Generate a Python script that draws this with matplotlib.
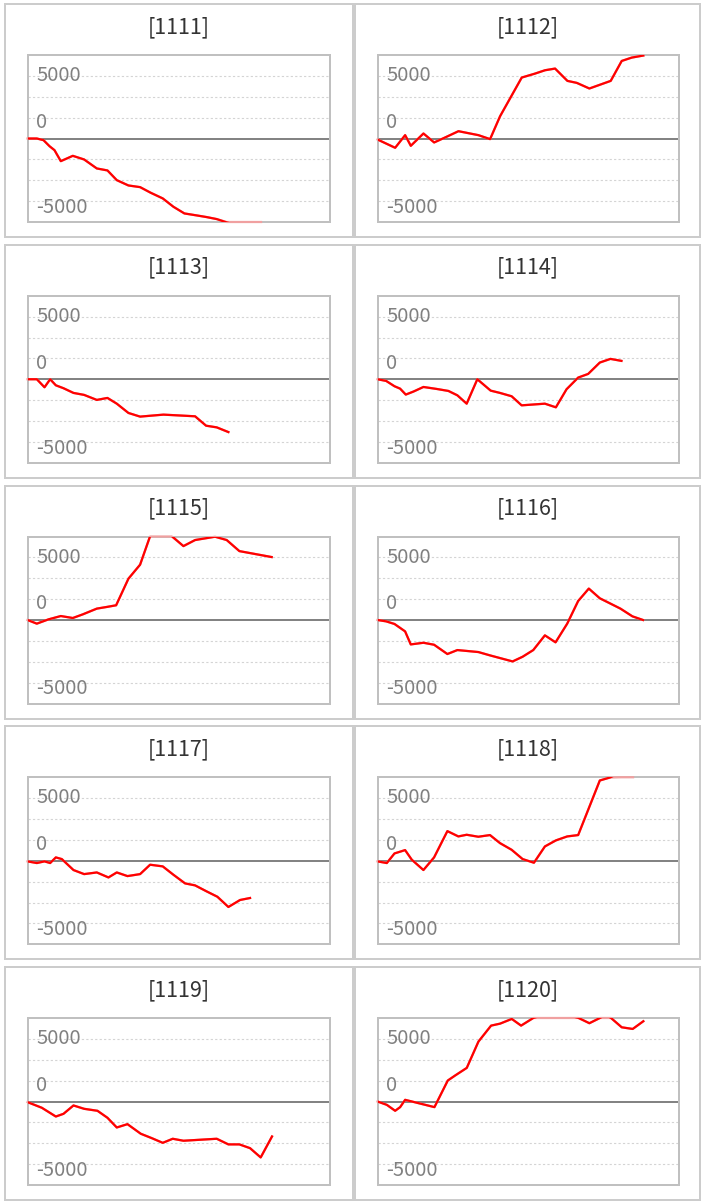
import numpy as np
import matplotlib
matplotlib.use('Agg')
import matplotlib.pyplot as plt
from matplotlib.patches import Rectangle

# ---------------- data ----------------
panel_ids = ['1111', '1112', '1113', '1114', '1115',
             '1116', '1117', '1118', '1119', '1120']
y_label_texts = ['5000', '0', '-5000']

x_1111 = [0, 277, 476, 654, 803, 991, 1348, 1685, 2062, 2379, 2656, 3003, 3350,
          3667, 4024, 4341, 4668, 5035, 5332, 5630, 5927, 6949]
y_1111 = [0, 0, -160, -734, -1117, -2170, -1660, -2010, -2870, -3060, -3990, -4500,
          -4660, -5200, -5740, -6540, -7180, -7370, -7530, -7720, -8040, -8900]

x_1112 = [0, 527, 825, 994, 1372, 1691, 2019, 2417, 3013, 3361, 3660, 4306, 4704,
          5002, 5301, 5669, 5948, 6325, 6962, 7290, 7588, 7936]
y_1112 = [-96, -890, 320, -700, 480, -380, 100, 700, 320, -60, 2140, 5840, 6220,
          6540, 6700, 5520, 5330, 4790, 5520, 7430, 7750, 7950]

x_1113 = [0, 278, 506, 674, 843, 1071, 1368, 1685, 2062, 2379, 2656, 3003, 3350,
          4044, 4639, 4986, 5313, 5630, 5977]
y_1113 = [0, 0, -770, 0, -580, -860, -1310, -1500, -1980, -1790, -2340, -3230,
          -3580, -3390, -3490, -3550, -4450, -4610, -5060]

x_1114 = [0, 258, 507, 675, 844, 1073, 1371, 1768, 2116, 2384, 2662, 2980, 3378,
          3656, 4004, 4302, 4997, 5325, 5643, 5990, 6288, 6636, 6954, 7282]
y_1114 = [0, -160, -670, -900, -1470, -1180, -740, -930, -1120, -1540, -2340, 0,
          -1090, -1310, -1630, -2500, -2340, -2690, -960, 160, 510, 1600, 1950, 1760]

x_1115 = [0, 277, 624, 991, 1348, 1645, 2062, 2359, 2637, 3003, 3350, 3648, 3945,
          4292, 4639, 4986, 5580, 5927, 6304, 7265]
y_1115 = [0, -350, 60, 380, 190, 540, 1090, 1250, 1410, 3960, 5300, 8040, 8600,
          8040, 7080, 7660, 7980, 7660, 6600, 6030]

x_1116 = [0, 258, 507, 824, 993, 1371, 1689, 2086, 2384, 3010, 3358, 4033, 4332,
          4650, 4997, 5315, 5663, 5990, 6308, 6636, 6954, 7252, 7610, 7927]
y_1116 = [0, -130, -380, -1090, -2340, -2180, -2370, -3260, -2880, -3070, -3390,
          -3970, -3520, -2880, -1470, -2140, -350, 1820, 3010, 2080, 1570, 1090, 350, 0]

x_1117 = [0, 278, 506, 674, 843, 1021, 1368, 1685, 2062, 2409, 2656, 2974, 3350,
          3648, 4024, 4341, 4688, 4986, 5332, 5650, 5977, 6324, 6621]
y_1117 = [-60, -220, -60, -220, 320, 160, -890, -1280, -1120, -1600, -1120, -1470,
          -1280, -380, -540, -1340, -2170, -2360, -2940, -3450, -4430, -3760, -3570]

x_1118 = [0, 278, 507, 824, 1023, 1371, 1689, 2086, 2414, 2662, 3010, 3358, 3656,
          4004, 4332, 4670, 4997, 5325, 5663, 5990, 6636, 6934, 7280, 7629]
y_1118 = [-60, -220, 700, 1020, 100, -890, 320, 2840, 2330, 2490, 2300, 2460, 1690,
          1050, 160, -190, 1370, 1950, 2330, 2460, 7690, 7970, 8500, 8400]

x_1119 = [0, 426, 843, 1071, 1368, 1685, 2082, 2379, 2656, 2974, 3370, 3697, 4024,
          4321, 4639, 5630, 5977, 6304, 6621, 6938, 7275]
y_1119 = [-60, -600, -1440, -1180, -380, -700, -890, -1560, -2490, -2170, -3090,
          -3510, -3960, -3570, -3760, -3570, -4110, -4110, -4470, -5360, -3350]

x_1120 = [0, 278, 527, 676, 825, 1700, 2098, 2317, 2665, 3013, 3391, 3660, 4008,
          4286, 4654, 5300, 5997, 6325, 6643, 6810, 6971, 7290, 7618, 7936]
y_1120 = [0, -320, -890, -540, 160, -540, 2010, 2490, 3220, 5740, 7270, 7460, 7910,
          7270, 8010, 8600, 8010, 7500, 8010, 8300, 8000, 7110, 6950, 7690]

series = {
    '1111': (x_1111, y_1111), '1112': (x_1112, y_1112),
    '1113': (x_1113, y_1113), '1114': (x_1114, y_1114),
    '1115': (x_1115, y_1115), '1116': (x_1116, y_1116),
    '1117': (x_1117, y_1117), '1118': (x_1118, y_1118),
    '1119': (x_1119, y_1119), '1120': (x_1120, y_1120),
}

# ---------------- layout ----------------
W, H = 705, 1203
fig = plt.figure(figsize=(W / 100, H / 100), dpi=100)
FONT = ['Noto Sans CJK JP', 'DejaVu Sans']

X_MAX = 9000
Y_LIM = 8000
GRID_LEVELS = [-6000, -4000, -2000, 2000, 4000, 6000]
LABEL_FRACS = [0.844, 0.563, 0.054]

PITCH = 240.75
col_box = [(5, 353), (355, 700)]
col_axes = [(27.5, 330), (377.5, 679)]

for i, pid in enumerate(panel_ids):
    r, c = divmod(i, 2)
    off = r * PITCH
    bx0, bx1 = col_box[c]
    by0, by1 = 4 + off, 237 + off
    fig.patches.append(Rectangle((bx0 / W, 1 - by1 / H), (bx1 - bx0) / W, (by1 - by0) / H,
                                 transform=fig.transFigure, fill=False,
                                 edgecolor='#cccccc', linewidth=1.44))
    fig.text((bx0 + bx1) / 2 / W, 1 - (33 + off) / H, f'[{pid}]', ha='center',
             va='baseline', fontsize=15.5, color='#333333', family=FONT)

    a0, a1 = col_axes[c]
    ay0, ay1 = 55 + off, 222 + off
    ax = fig.add_axes([a0 / W, 1 - ay1 / H, (a1 - a0) / W, (ay1 - ay0) / H])
    ax.set_xlim(0, X_MAX)
    ax.set_ylim(-Y_LIM, Y_LIM)
    ax.set_xticks([])
    ax.set_yticks([])
    for s in ax.spines.values():
        s.set_color('#c0c0c0')
        s.set_linewidth(1.44)
    for v in GRID_LEVELS:
        ax.axhline(v, color='#d4d4d4', lw=0.8, linestyle=(0, (2, 2)), zorder=1)
    ax.axhline(0, color='#808080', lw=1.4, zorder=2)

    for txt, fr in zip(y_label_texts, LABEL_FRACS):
        ax.text(8.5 / (a1 - a0), fr, txt, transform=ax.transAxes, ha='left',
                va='baseline', fontsize=14.5, color='#808080', family=FONT, zorder=3)

    xs, ys = series[pid]
    xs = np.asarray(xs, dtype=float)
    ys = np.asarray(ys, dtype=float)
    ax.plot(xs, np.clip(ys, -Y_LIM, Y_LIM), color='#f0a0a0', lw=1.6,
            clip_on=False, zorder=4)
    ax.plot(xs, ys, color='#ff0000', lw=1.6, zorder=5)

fig.savefig('out.png', dpi=100)
